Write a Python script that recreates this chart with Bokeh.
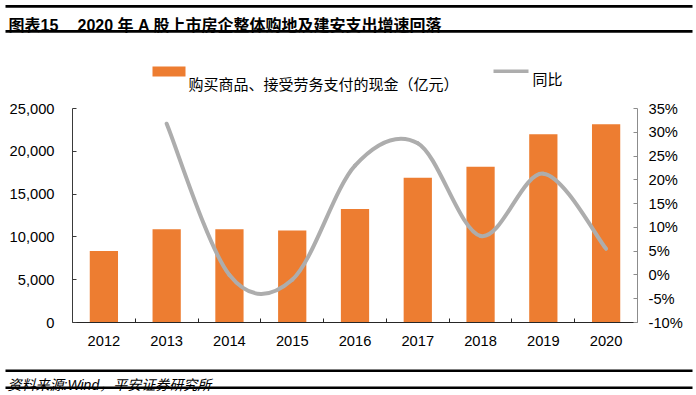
import numpy as np
from bokeh.plotting import figure
from bokeh.layouts import column
from bokeh.models import (Range1d, LinearAxis, FixedTicker, NumeralTickFormatter,
                          PrintfTickFormatter)
from bokeh.core.properties import value
from bokeh.embed import file_html
from bokeh.resources import INLINE

# ---------------- data ----------------
years = [2012, 2013, 2014, 2015, 2016, 2017, 2018, 2019, 2020]
cash_paid = [8350, 10900, 10900, 10750, 13250, 16900, 18200, 22000, 23150]  # 亿元
yoy_years = [2013, 2014, 2015, 2016, 2017, 2018, 2019, 2020]
yoy_pct = [31.8, 0.0, -1.0, 23.0, 27.7, 8.2, 21.3, 5.5]
left_ticks = [0, 5000, 10000, 15000, 20000, 25000]
right_ticks = [-10, -5, 0, 5, 10, 15, 20, 25, 30, 35]
bar_label = "购买商品、接受劳务支付的现金（亿元）"
line_label = "同比"
title_num = "图表15"
title_text = "2020 年 A 股上市房企整体购地及建安支出增速回落"
source_text = "资料来源:Wind，平安证券研究所"

# ---------------- styles ----------------
BAR = "#ED7D31"
LINE = "#ADADAD"
FONT = "Liberation Sans, Noto Sans CJK SC"
FS = "14.7px"
W = 696
H_HDR, H_MAIN, H_FTR = 92, 268, 35


def blank(height, y0, y1):
    f = figure(width=W, height=height, output_backend="svg", toolbar_location=None,
               x_range=Range1d(0, W), y_range=Range1d(y1, y0),
               x_axis_location=None, y_axis_location=None, min_border=0)
    f.frame_align = False
    f.outline_line_color = None
    f.grid.visible = False
    f.background_fill_color = "white"
    f.border_fill_color = "white"
    return f


def txt(f, x, y, s, size="15px", style="normal"):
    f.text(x=[x], y=[y], text=[s], text_font=value(FONT), text_font_size=size,
           text_font_style=style, text_color="black", text_baseline="alphabetic",
           text_align="left")


# ---------------- header: title + legend ----------------
hdr = blank(H_HDR, 0, H_HDR)
hdr.quad(left=[5], right=[692], top=[4.5], bottom=[7.2], fill_color="black", line_color=None)
hdr.quad(left=[5], right=[692], top=[29.5], bottom=[32.2], fill_color="black", line_color=None)
txt(hdr, 8, 25, title_num, size="16px", style="bold")
txt(hdr, 77, 25, title_text, size="16px", style="bold")
hdr.quad(left=[152], right=[185], top=[66], bottom=[76], fill_color=BAR, line_color=None)
txt(hdr, 188, 84, bar_label, size="15px")
hdr.segment(x0=[493], y0=[70.7], x1=[528], y1=[70.7], line_color=LINE, line_width=3.5)
txt(hdr, 532, 78.5, line_label, size="15px")

# ---------------- main chart ----------------
FL, FR, FT, FB = 72, 637, 108 - H_HDR, 322 - H_HDR
p = figure(width=W, height=H_MAIN, output_backend="svg", toolbar_location=None,
           x_range=Range1d(2011.5, 2020.5), y_range=Range1d(0, 25000),
           min_border_left=FL, min_border_right=W - FR,
           min_border_top=FT, min_border_bottom=H_MAIN - FB)
p.frame_align = False
p.outline_line_color = None
p.grid.visible = False
p.background_fill_color = "white"
p.border_fill_color = "white"
p.extra_y_ranges = {"pct": Range1d(-10, 35)}

p.vbar(x=years, top=cash_paid, width=0.45, fill_color=BAR, line_color=None)

# smoothed line (Catmull-Rom as cubic Bezier segments)
xs = np.array(yoy_years, dtype=float)
ys = np.array(yoy_pct, dtype=float)
n = len(xs)
xp = np.concatenate([[xs[0]], xs, [xs[-1]]])
yp = np.concatenate([[ys[0]], ys, [ys[-1]]])
cx0 = xs[:-1] + (xp[2:n + 1] - xp[0:n - 1]) / 6.0
cy0 = ys[:-1] + (yp[2:n + 1] - yp[0:n - 1]) / 6.0
cx1 = xs[1:] - (xp[3:n + 2] - xp[1:n]) / 6.0
cy1 = ys[1:] - (yp[3:n + 2] - yp[1:n]) / 6.0
p.bezier(x0=xs[:-1], y0=ys[:-1], x1=xs[1:], y1=ys[1:], cx0=cx0, cy0=cy0, cx1=cx1, cy1=cy1,
         y_range_name="pct", line_color=LINE, line_width=4, line_cap="round")

ax = p.yaxis[0]
ax.ticker = FixedTicker(ticks=left_ticks)
ax.formatter = NumeralTickFormatter(format="0,0")
ax.axis_line_color = "#3a3a3a"
ax.major_tick_line_color = "#3a3a3a"
ax.major_tick_in = 4
ax.major_tick_out = 0
ax.minor_tick_line_color = None
ax.major_label_standoff = 18
ax.major_label_text_font = FONT
ax.major_label_text_font_size = FS
ax.major_label_text_color = "black"

rax = LinearAxis(y_range_name="pct", ticker=FixedTicker(ticks=right_ticks),
                 formatter=PrintfTickFormatter(format="%d%%"))
rax.axis_line_color = "#8c8c8c"
rax.major_tick_line_color = "#8c8c8c"
rax.major_tick_in = 4
rax.major_tick_out = 0
rax.minor_tick_line_color = None
rax.major_label_standoff = 11
rax.major_label_text_font = FONT
rax.major_label_text_font_size = FS
rax.major_label_text_color = "black"
p.add_layout(rax, "right")

bx = p.xaxis[0]
bx.ticker = FixedTicker(ticks=years, minor_ticks=[y + 0.5 for y in years[:-1]])
bx.formatter = PrintfTickFormatter(format="%d")
bx.axis_line_color = "#262626"
bx.major_tick_line_color = None
bx.minor_tick_line_color = "#262626"
bx.minor_tick_in = 4
bx.minor_tick_out = 0
bx.major_label_standoff = 7
bx.major_label_text_font = FONT
bx.major_label_text_font_size = FS
bx.major_label_text_color = "black"

# ---------------- footer: source ----------------
Y0 = H_HDR + H_MAIN
ftr = blank(H_FTR, Y0, Y0 + H_FTR)
ftr.quad(left=[5], right=[692], top=[369], bottom=[371.5], fill_color="black", line_color=None)
ftr.quad(left=[5], right=[692], top=[386], bottom=[388.5], fill_color="black", line_color=None)
txt(ftr, 7, 384.5, source_text, size="14px", style="italic")

layout = column(hdr, p, ftr, spacing=0)
open("out.html", "w").write(file_html(layout, INLINE))
